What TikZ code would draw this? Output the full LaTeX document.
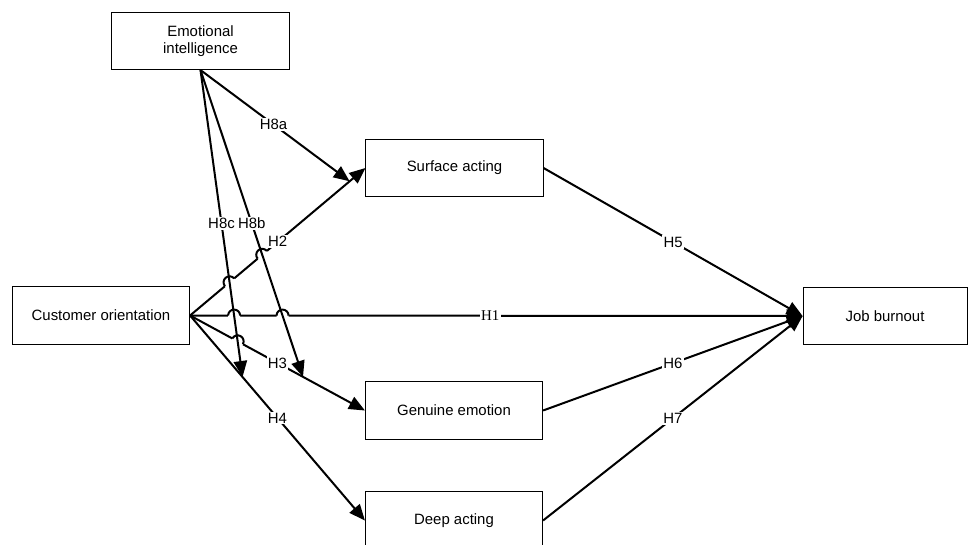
\documentclass[tikz,border=0pt]{standalone}
\usepackage{fontspec}
\setmainfont{Liberation Sans}
\newfontfamily\hserif{Liberation Serif}
\usetikzlibrary{positioning,arrows.meta,calc,intersections}

% small bump where a line is crossed
\newcommand{\linehop}[3]{%
  \draw[white, line width=3pt] let \p1=($(#2)-(#1)$), \n1={atan2(\y1,\x1)} in
    ($(#3)+(\n1+180:4.5pt)$) -- ($(#3)+(\n1:4.5pt)$);
  \draw[line width=1.5pt] let \p1=($(#2)-(#1)$), \n1={atan2(\y1,\x1)} in
    ($(#3)+(\n1+180:4.5pt)$) arc[start angle=\n1+180, delta angle=-180, radius=4.5pt];
}

\begin{document}
\begin{tikzpicture}[
      x=0.75pt, y=-0.75pt,
      font=\fontsize{11.2}{13}\selectfont,
      box/.style={draw, line width=0.6pt, align=center, minimum width=133pt, minimum height=43pt, inner sep=2pt},
      arrow/.style={-{Triangle[length=12pt,width=10pt]}, line width=1.5pt},
      hyp/.style={fill=white, inner sep=1pt}
    ]
    \useasboundingbox (0,0) rectangle (968,544);

    \node[box] (ei) at (200.5,41) {Emotional\\intelligence};
    \node[box] (co) at (101,315.5) {Customer orientation};
    \node[box] (sa) at (454.5,168) {Surface acting};
    \node[box] (ge) at (454,410.5) {Genuine emotion};
    \node[box] (da) at (454,520.5) {Deep acting};
    \node[box, minimum width=123pt] (jb) at (885,316) {Job burnout};

    \draw[arrow, name path=h2] (co.east) -- node[hyp] {H2} (sa.west);
    \draw[arrow, name path=h1] (co.east) -- node[hyp, pos=0.49, font=\hserif\fontsize{11.2}{13}\selectfont] {H1} (jb.west);
    \draw[arrow, name path=h3] (co.east) -- node[hyp] {H3} (ge.west);
    \draw[arrow] (co.east) -- node[hyp] {H4} (da.west);

    \draw[arrow] (sa.east) -- node[hyp] {H5} (jb.west);
    \draw[arrow] (ge.east) -- node[hyp] {H6} (jb.west);
    \draw[arrow] (da.east) -- node[hyp] {H7} (jb.west);

    % moderating paths end on the direct paths
    \coordinate (m8a) at ($(co.east)!0.91!(sa.west)$);
    \coordinate (m8b) at ($(co.east)!0.646!(ge.west)$);
    \coordinate (m8c) at ($(co.east)!0.30!(da.west)$);

    \path[name path=e8b] (ei.south) -- (m8b);
    \path[name path=e8c] (ei.south) -- (m8c);

    \path[name intersections={of=h2 and e8c, by=hA}];
    \path[name intersections={of=h2 and e8b, by=hB}];
    \path[name intersections={of=h1 and e8c, by=hC}];
    \path[name intersections={of=h1 and e8b, by=hD}];
    \path[name intersections={of=h3 and e8c, by=hE}];
    \linehop{co.east}{sa.west}{hA}
    \linehop{co.east}{sa.west}{hB}
    \linehop{co.east}{jb.west}{hC}
    \linehop{co.east}{jb.west}{hD}
    \linehop{co.east}{ge.west}{hE}

    \draw[arrow] (ei.south) -- node[hyp, pos=0.49] {H8a} (m8a);
    \draw[arrow] (ei.south) -- node[hyp] {H8b} (m8b);
    \draw[arrow] (ei.south) -- node[hyp] {H8c} (m8c);
  \end{tikzpicture}
\end{document}
